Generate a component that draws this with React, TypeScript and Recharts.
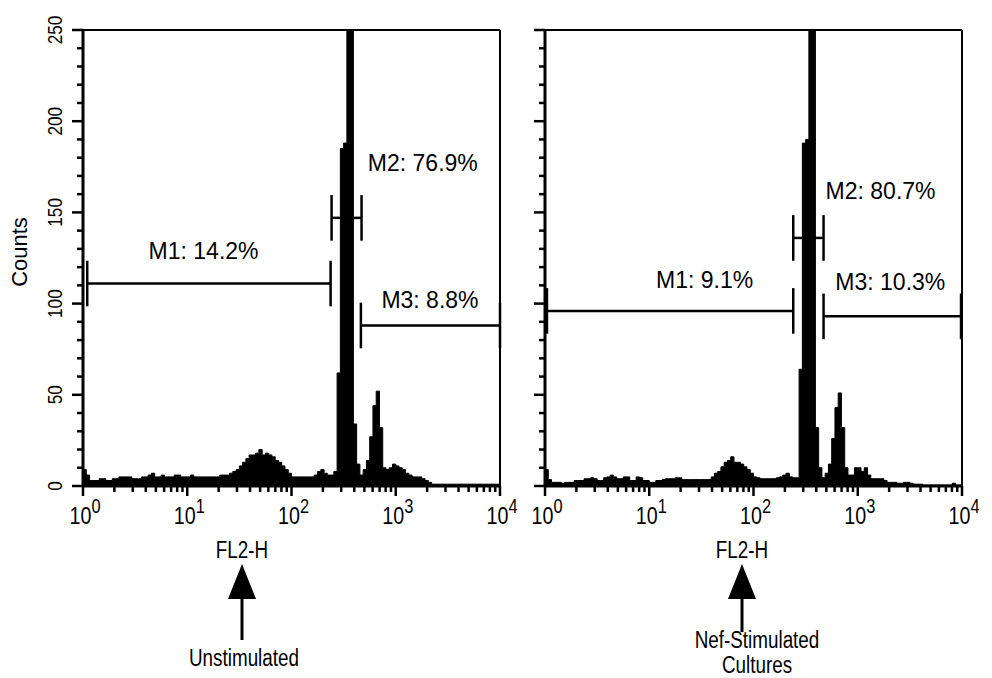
import {
  ComposedChart, Area, XAxis, YAxis, ReferenceLine, ReferenceDot,
} from "recharts";

// FL2-H histogram, 32 channels per decade, 10^0 .. 10^4
const DECADES = [0, 1, 2, 3, 4];
const CH_PER_DECADE = 32;
const MINOR_STEPS = [2, 3, 4, 5, 6, 7, 8, 9];
const COUNT_TICKS = [0, 10, 20, 30, 40, 50, 60, 70, 80, 90, 100, 110, 120, 130, 140, 150, 160, 170, 180, 190, 200, 210, 220, 230, 240, 250];
const COUNT_LABELS = [0, 50, 100, 150, 200, 250];

const UNSTIM_COUNTS = [
  9, 6, 3, 3, 3, 4, 4, 3, 3, 4, 4, 5, 5, 5, 5, 4, 4, 4, 5, 5, 6, 7, 5, 5, 6, 5, 5, 5, 6, 6, 5, 5,
  5, 6, 5, 5, 5, 5, 5, 5, 5, 5, 6, 6, 6, 7, 8, 9, 11, 13, 15, 17, 17, 18, 20, 17, 18, 17, 16, 14, 13, 11, 9, 7,
  5, 5, 5, 5, 5, 5, 5, 6, 8, 9, 7, 6, 6, 8, 62, 185, 188, 320, 320, 34, 12, 6, 9, 14, 27, 44, 52, 32, 10, 9, 10, 12,
  11, 10, 9, 7, 6, 5, 5, 5, 4, 3, 2, 1, 1, 1, 1, 1, 1, 1, 1, 1, 1, 1, 1, 1, 1, 1, 1, 1, 1, 1, 1, 1,
];

const NEF_COUNTS = [
  9, 3.5, 2, 2, 2, 1.5, 2, 2, 2, 3, 3, 3, 4, 4, 4.5, 4, 3, 3, 4.5, 5, 6, 5, 4, 4, 5, 5, 3, 3, 5, 4.5, 3, 3,
  2, 2, 3, 3, 3.5, 4, 4, 4, 4.5, 4.5, 3.5, 3.5, 3.5, 3.5, 3.5, 3.5, 3.5, 3.5, 3.5, 5, 7, 8, 10.5, 13, 14, 16, 13, 13, 12, 10.5, 9, 7,
  5, 4.5, 4, 4, 4, 4, 4, 4.5, 5, 6, 7, 5, 4.5, 4.5, 64, 188, 190, 320, 320, 32, 10, 4.5, 7, 12, 26, 43, 51, 32, 10, 6, 6, 10,
  10, 8, 10, 6, 4, 4, 4, 4, 3, 2, 2, 2, 1.5, 1.5, 2, 2, 1.5, 1, 1, 1, 0.5, 0.5, 0.5, 0.5, 0.5, 0.5, 0.5, 0.5, 0.5, 1.5, 0.5, 0.5,
];

// marker gates: channel range and the count level the bar is drawn at
const UNSTIM_GATES = [
  { name: "M1", pct: "14.2%", from: 1.3, to: 76, level: 111 },
  { name: "M2", pct: "76.9%", from: 76.3, to: 85.5, level: 147 },
  { name: "M3", pct: "8.8%", from: 85.3, to: 128, level: 88 },
];
const NEF_GATES = [
  { name: "M1", pct: "9.1%", from: 0.6, to: 76.2, level: 96 },
  { name: "M2", pct: "80.7%", from: 76.2, to: 85.5, level: 136 },
  { name: "M3", pct: "10.3%", from: 85.5, to: 127.7, level: 93 },
];

// where each gate's text sits (channel, count)
const UNSTIM_LABEL_AT = [[37, 129], [104.3, 177], [106.5, 102]];
const NEF_LABEL_AT = [[49, 113], [103, 162], [106, 112]];

const FONT = '"Liberation Sans", Arial, Helvetica, sans-serif';
const SQUEEZE = 0.82; // the figure's lettering is a condensed grotesque
const PLOT_LEFT = 83;
const PLOT_BOTTOM = 486;
const CAP = 12.5;

const xTicks = DECADES.flatMap((d) =>
  d === 4 ? [d * CH_PER_DECADE] : [d * CH_PER_DECADE, ...MINOR_STEPS.map((k) => (d + Math.log10(k)) * CH_PER_DECADE)]
);

// condensed text: squeeze horizontally around the anchor point
function NarrowText({ x, y, size, rotate = 0, children }: { x: number; y: number; size: number; rotate?: number; children: any }) {
  return (
    <g transform={`translate(${x} ${y}) rotate(${rotate}) scale(${SQUEEZE} 1)`}>
      <text x={0} y={0} textAnchor="middle" fontSize={size} fontFamily={FONT} fill="#000">{children}</text>
    </g>
  );
}

function XTick(props: any) {
  const x = props.x;
  const decade = props.payload.value / CH_PER_DECADE;
  const major = Math.abs(decade - Math.round(decade)) < 1e-6;
  return (
    <g>
      <line x1={x} x2={x} y1={PLOT_BOTTOM} y2={PLOT_BOTTOM + (major ? 10 : 6)} stroke="#000" strokeWidth={2.5} />
      {major && (
        <NarrowText x={x + 2} y={524} size={24}>
          10<tspan dy={-11} fontSize={20}>{Math.round(decade)}</tspan>
        </NarrowText>
      )}
    </g>
  );
}

function YTick(props: any) {
  const y = props.y;
  const v = props.payload.value;
  const major = COUNT_LABELS.includes(v);
  return (
    <g>
      <line x1={PLOT_LEFT - (major ? 11 : 6)} x2={PLOT_LEFT} y1={y} y2={y} stroke="#000" strokeWidth={2.5} />
      {props.showLabel && major && <NarrowText x={62} y={y} size={21} rotate={-90}>{v}</NarrowText>}
    </g>
  );
}

function CountsLabel() {
  return (
    <text x={27} y={252} transform="rotate(-90 27 252)" textAnchor="middle" fontSize={22} fontFamily={FONT} fill="#000">
      Counts
    </text>
  );
}

function Histogram({ counts, gates, labelAt, showY }: { counts: number[]; gates: typeof UNSTIM_GATES; labelAt: number[][]; showY: boolean }) {
  const rows = [...counts.map((n, i) => ({ ch: i, n })), { ch: counts.length, n: counts[counts.length - 1] }];
  return (
    <ComposedChart width={520} height={540} data={rows} margin={{ top: 30, right: 20, bottom: 14, left: 23 }}>
      <XAxis
        type="number" dataKey="ch" domain={[0, 128]} ticks={xTicks} interval={0} height={40}
        axisLine={{ stroke: "#000", strokeWidth: 3 }} tickLine={false} tick={(p: any) => <XTick {...p} />}
      />
      <YAxis
        type="number" domain={[0, 250]} ticks={COUNT_TICKS} interval={0} width={60} allowDataOverflow
        axisLine={{ stroke: "#000", strokeWidth: 3 }} tickLine={false}
        tick={(p: any) => <YTick {...p} showLabel={showY} />}
        label={showY ? <CountsLabel /> : undefined}
      />
      <Area
        type="stepAfter" dataKey="n" stroke="#000" strokeWidth={1} fill="#000" fillOpacity={1}
        baseValue={0} dot={false} activeDot={false} isAnimationActive={false}
      />
      <ReferenceLine y={250} stroke="#000" strokeWidth={2} />
      <ReferenceLine x={128} stroke="#000" strokeWidth={2} />
      {gates.map((g) => (
        <ReferenceLine key={g.name} segment={[{ x: g.from, y: g.level }, { x: g.to, y: g.level }]} stroke="#000" strokeWidth={2.5} />
      ))}
      {gates.flatMap((g) => [g.from, g.to].map((x, j) => (
        <ReferenceLine key={g.name + j} segment={[{ x, y: g.level - CAP }, { x, y: g.level + CAP }]} stroke="#000" strokeWidth={2.5} />
      )))}
      {gates.map((g, i) => (
        <ReferenceDot
          key={"t" + g.name} x={labelAt[i][0]} y={labelAt[i][1]} r={0} fill="none" stroke="none"
          label={{ value: `${g.name}: ${g.pct}`, position: "center", fontSize: 23, fill: "#000", fontFamily: FONT }}
        />
      ))}
    </ComposedChart>
  );
}

function Pointer({ x, shaftEnd, lines }: { x: number; shaftEnd: number; lines: { text: string; cx: number; y: number }[] }) {
  return (
    <g>
      <NarrowText x={x} y={558} size={23}>FL2-H</NarrowText>
      <polygon points={`${x},564 ${x - 14},599 ${x + 14},599`} fill="#000" />
      <line x1={x} x2={x} y1={598} y2={shaftEnd} stroke="#000" strokeWidth={3} />
      {lines.map((l) => (
        <NarrowText key={l.text} x={l.cx} y={l.y} size={23}>{l.text}</NarrowText>
      ))}
    </g>
  );
}

export default function App() {
  return (
    <div style={{ position: "absolute", left: 0, top: 0, width: 992, height: 678, background: "#fff", fontFamily: FONT, overflow: "hidden" }}>
      <div style={{ position: "absolute", left: 0, top: 0 }}>
        <Histogram counts={UNSTIM_COUNTS} gates={UNSTIM_GATES} labelAt={UNSTIM_LABEL_AT} showY />
      </div>
      <div style={{ position: "absolute", left: 462, top: 0 }}>
        <Histogram counts={NEF_COUNTS} gates={NEF_GATES} labelAt={NEF_LABEL_AT} showY={false} />
      </div>
      <svg width={992} height={678} style={{ position: "absolute", left: 0, top: 0, pointerEvents: "none" }}>
        <Pointer x={242} shaftEnd={640} lines={[{ text: "Unstimulated", cx: 244, y: 666 }]} />
        <Pointer x={742} shaftEnd={632} lines={[{ text: "Nef-Stimulated", cx: 757, y: 648 }, { text: "Cultures", cx: 757, y: 673 }]} />
      </svg>
    </div>
  );
}
